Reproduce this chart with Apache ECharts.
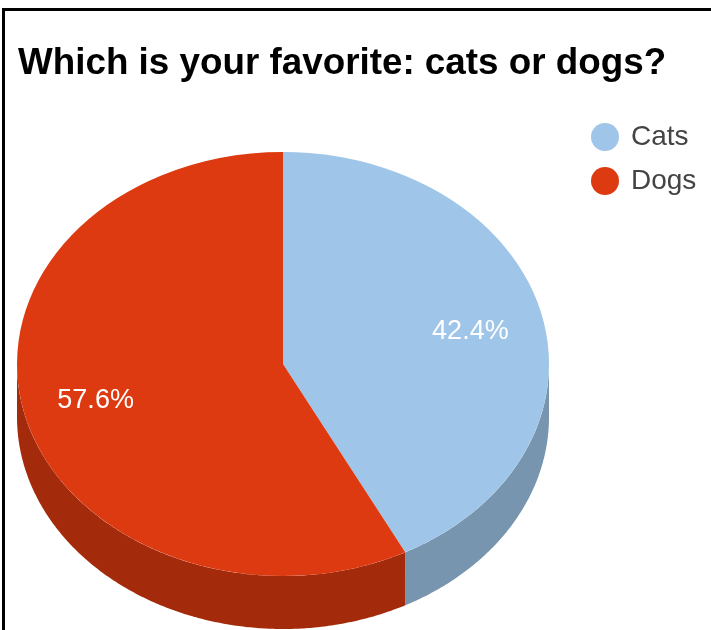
<!DOCTYPE html>
<html>
<head>
<meta charset="utf-8">
<style>
  html, body { margin: 0; padding: 0; background: #fff; }
  #chart { width: 711px; height: 630px; }
</style>
<script src="https://cdn.jsdelivr.net/npm/echarts@6/dist/echarts.min.js"></script>
</head>
<body>
<div id="chart"></div>
<script>
// Poll answers, in percent
const categories = ['Cats', 'Dogs'];
const shares = [42.4, 57.6];
const topColors = ['#9FC5E8', '#DD3A11'];
const wallColors = ['#7795AE', '#A32B0C'];
const chartTitle = 'Which is your favorite: cats or dogs?';

// Tilted pie geometry
const pie = { cx: 283, cy: 364, rx: 266, ry: 212, depth: 53, labelX: 0.725, labelY: 0.69, labelDrop: 2 };
const FONT = '"Liberation Sans", Arial, sans-serif';

const total = shares.reduce((a, b) => a + b, 0);

function startFraction(index) {
  return shares.slice(0, index).reduce((a, b) => a + b, 0) / total;
}

// Point on the top ellipse; angle runs clockwise from twelve o'clock
function rim(angle, drop) {
  return [
    pie.cx + pie.rx * Math.sin(angle),
    pie.cy - pie.ry * Math.cos(angle) + drop
  ];
}

// Outline of the visible side wall, only on the front half of the rim
function wallPoints(a0, a1) {
  const from = Math.max(a0, Math.PI / 2);
  const to = Math.min(a1, Math.PI * 1.5);
  if (to <= from) return null;
  const steps = Math.ceil((to - from) / (Math.PI / 360));
  const upper = [];
  const lower = [];
  for (let i = 0; i <= steps; i++) {
    const a = from + (to - from) * i / steps;
    upper.push(rim(a, 0));
    lower.push(rim(a, pie.depth));
  }
  return upper.concat(lower.reverse());
}

function sliceRenderer(index) {
  return function (params, api) {
    const value = api.value(0);
    const a0 = startFraction(index) * Math.PI * 2;
    const a1 = a0 + value / total * Math.PI * 2;
    const mid = (a0 + a1) / 2;
    const children = [];
    const wall = wallPoints(a0, a1);
    if (wall) {
      children.push({
        type: 'polygon',
        shape: { points: wall },
        style: { fill: wallColors[index] }
      });
    }
    children.push({
      type: 'sector',
      x: pie.cx,
      y: pie.cy,
      scaleY: pie.ry / pie.rx,
      shape: {
        cx: 0, cy: 0, r0: 0, r: pie.rx,
        startAngle: a0 - Math.PI / 2,
        endAngle: a1 - Math.PI / 2,
        clockwise: true
      },
      style: { fill: topColors[index] }
    });
    children.push({
      type: 'text',
      x: pie.cx + pie.rx * pie.labelX * Math.sin(mid),
      y: pie.cy - pie.ry * pie.labelY * Math.cos(mid) + pie.labelDrop,
      style: {
        text: value.toFixed(1) + '%',
        fill: '#fff',
        font: '27px ' + FONT,
        textAlign: 'center',
        textVerticalAlign: 'middle'
      }
    });
    return { type: 'group', children: children };
  };
}

const chart = echarts.init(document.getElementById('chart'), null, { renderer: 'canvas' });
chart.setOption({
  animation: false,
  backgroundColor: '#fff',
  title: {
    text: chartTitle,
    left: 13,
    top: 40,
    textStyle: { fontFamily: FONT, fontSize: 36.8, fontWeight: 'bold', color: '#000' }
  },
  legend: {
    data: categories,
    orient: 'vertical',
    left: 586,
    top: 118,
    itemWidth: 28,
    itemHeight: 28,
    itemGap: 16,
    icon: 'circle',
    selectedMode: false,
    textStyle: { fontFamily: FONT, fontSize: 28, color: '#444', padding: [0, 0, 0, 7] }
  },
  graphic: [
    { type: 'rect', shape: { x: 2, y: 8, width: 709, height: 3 }, style: { fill: '#000' }, silent: true },
    { type: 'rect', shape: { x: 2, y: 8, width: 3, height: 622 }, style: { fill: '#000' }, silent: true }
  ],
  series: categories.map((name, i) => ({
    type: 'custom',
    name: name,
    coordinateSystem: 'none',
    itemStyle: { color: topColors[i] },
    silent: true,
    renderItem: sliceRenderer(i),
    data: [[shares[i]]]
  }))
});
</script>
</body>
</html>
